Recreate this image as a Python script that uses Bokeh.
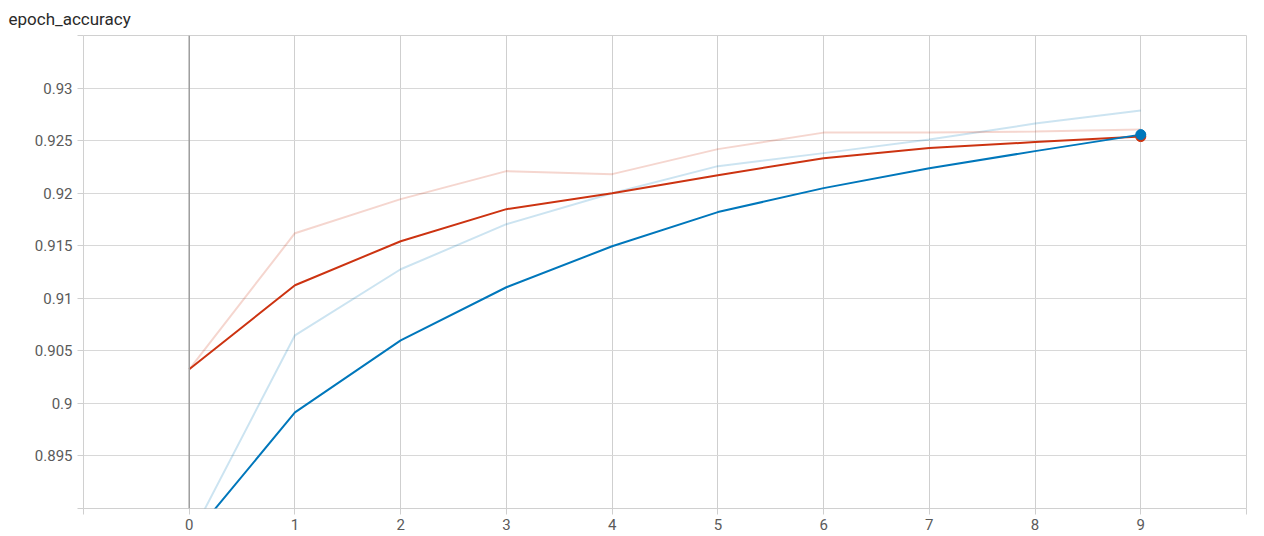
from bokeh.plotting import figure
from bokeh.models import FixedTicker, Span, Range1d, Title
from bokeh.embed import file_html
from bokeh.resources import INLINE

# Data
epochs = [0, 1, 2, 3, 4, 5, 6, 7, 8, 9]
train_raw = [0.8871, 0.90648, 0.91276, 0.91705, 0.92000, 0.92257, 0.92381, 0.92510, 0.92662, 0.92786]
train_smooth = [0.8870, 0.89914, 0.90600, 0.91105, 0.91495, 0.91820, 0.92048, 0.92238, 0.92400, 0.92557]
val_raw = [0.90324, 0.91619, 0.91943, 0.92210, 0.92181, 0.92419, 0.92576, 0.92576, 0.92586, 0.92605]
val_smooth = [0.90324, 0.91124, 0.91543, 0.91848, 0.92000, 0.92171, 0.92333, 0.92429, 0.92486, 0.92538]
x_ticks = [-1, 0, 1, 2, 3, 4, 5, 6, 7, 8, 9, 10]
y_ticks = [0.89, 0.895, 0.9, 0.905, 0.91, 0.915, 0.92, 0.925, 0.93, 0.935]
title_text = "epoch_accuracy"

BLUE = "#0077bb"
RED = "#cc3311"
FONT = "Roboto"

p = figure(width=1248, height=536, output_backend="svg", toolbar_location=None,
           x_range=Range1d(-1, 10), y_range=Range1d(0.89, 0.935),
           min_border_left=83, min_border_right=2, min_border_top=35, min_border_bottom=28)
p.outline_line_color = "#d0d0d0"
p.title = Title(text=title_text, text_font=FONT, text_font_size="17px",
                text_font_style="normal", text_color="#2a2a2a", offset=-75, standoff=10,
                vertical_align="top")

p.xaxis.ticker = FixedTicker(ticks=x_ticks)
p.yaxis.ticker = FixedTicker(ticks=y_ticks)
p.xaxis.major_label_overrides = {-1: "", 10: ""}
p.yaxis.major_label_overrides = {0.89: "", 0.935: "", 0.9: "0.9", 0.91: "0.91", 0.92: "0.92", 0.93: "0.93"}
for ax in (p.xaxis[0], p.yaxis[0]):
    ax.axis_line_color = None
    ax.major_tick_line_color = "#cfcfcf"
    ax.major_tick_in = 0
    ax.major_tick_out = 6
    ax.minor_tick_line_color = None
    ax.major_label_text_font = FONT
    ax.major_label_text_font_size = "15px"
    ax.major_label_text_color = "#5a5a5a"
p.xaxis.major_label_standoff = 4
p.yaxis.major_label_standoff = 5

p.xgrid.grid_line_color = "#cfcfcf"
p.ygrid.grid_line_color = "#d8d8d8"
p.xgrid.ticker = FixedTicker(ticks=x_ticks)
p.ygrid.ticker = FixedTicker(ticks=y_ticks)

p.add_layout(Span(location=0, dimension="height", line_color="#9e9e9e", line_width=1.5))

p.line(epochs, train_raw, line_color=BLUE, line_alpha=0.2, line_width=2)
p.line(epochs, val_raw, line_color=RED, line_alpha=0.2, line_width=2)
p.line(epochs, val_smooth, line_color=RED, line_width=2)
p.line(epochs, train_smooth, line_color=BLUE, line_width=2)
p.scatter([epochs[-1]], [val_smooth[-1]], size=10, fill_color=RED, line_color=RED)
p.scatter([epochs[-1]], [train_smooth[-1]], size=10, fill_color=BLUE, line_color=BLUE)

open("out.html", "w").write(file_html(p, INLINE))
